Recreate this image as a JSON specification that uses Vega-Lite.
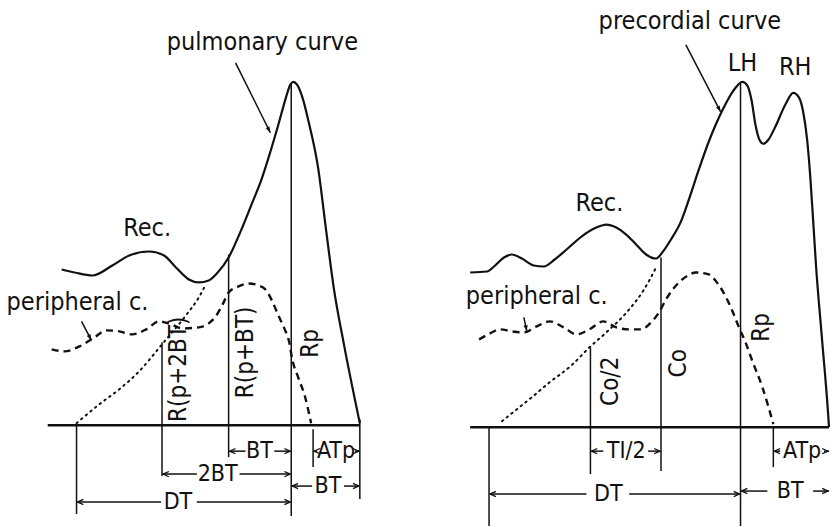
{
  "$schema": "https://vega.github.io/schema/vega-lite/v6.json",
  "width": 834,
  "height": 527,
  "autosize": {"type": "fit", "contains": "padding"},
  "padding": 0,
  "background": "white",
  "config": {"view": {"stroke": null}},
  "datasets": {
    "curves": [
      {"series": "pulmonary", "style": "solid", "i": 1, "x": 62, "y": 270},
      {"series": "pulmonary", "style": "solid", "i": 2, "x": 75, "y": 273},
      {"series": "pulmonary", "style": "solid", "i": 3, "x": 93, "y": 276},
      {"series": "pulmonary", "style": "solid", "i": 4, "x": 113, "y": 266},
      {"series": "pulmonary", "style": "solid", "i": 5, "x": 130, "y": 256},
      {"series": "pulmonary", "style": "solid", "i": 6, "x": 150, "y": 252},
      {"series": "pulmonary", "style": "solid", "i": 7, "x": 165, "y": 256},
      {"series": "pulmonary", "style": "solid", "i": 8, "x": 177, "y": 268},
      {"series": "pulmonary", "style": "solid", "i": 9, "x": 190, "y": 280},
      {"series": "pulmonary", "style": "solid", "i": 10, "x": 200, "y": 283},
      {"series": "pulmonary", "style": "solid", "i": 11, "x": 210, "y": 281},
      {"series": "pulmonary", "style": "solid", "i": 12, "x": 219, "y": 273},
      {"series": "pulmonary", "style": "solid", "i": 13, "x": 230, "y": 258},
      {"series": "pulmonary", "style": "solid", "i": 14, "x": 242, "y": 232},
      {"series": "pulmonary", "style": "solid", "i": 15, "x": 253, "y": 205},
      {"series": "pulmonary", "style": "solid", "i": 16, "x": 263, "y": 180},
      {"series": "pulmonary", "style": "solid", "i": 17, "x": 272, "y": 152},
      {"series": "pulmonary", "style": "solid", "i": 18, "x": 280, "y": 125},
      {"series": "pulmonary", "style": "solid", "i": 19, "x": 287, "y": 100},
      {"series": "pulmonary", "style": "solid", "i": 20, "x": 292, "y": 85},
      {"series": "pulmonary", "style": "solid", "i": 21, "x": 295, "y": 82},
      {"series": "pulmonary", "style": "solid", "i": 22, "x": 299, "y": 85},
      {"series": "pulmonary", "style": "solid", "i": 23, "x": 305, "y": 100},
      {"series": "pulmonary", "style": "solid", "i": 24, "x": 310, "y": 120},
      {"series": "pulmonary", "style": "solid", "i": 25, "x": 320, "y": 168},
      {"series": "pulmonary", "style": "solid", "i": 26, "x": 328, "y": 230},
      {"series": "pulmonary", "style": "solid", "i": 27, "x": 336, "y": 290},
      {"series": "pulmonary", "style": "solid", "i": 28, "x": 346, "y": 345},
      {"series": "pulmonary", "style": "solid", "i": 29, "x": 362, "y": 424},
      {"series": "precordial", "style": "solid", "i": 1, "x": 473, "y": 273},
      {"series": "precordial", "style": "solid", "i": 2, "x": 490, "y": 272},
      {"series": "precordial", "style": "solid", "i": 3, "x": 497, "y": 267},
      {"series": "precordial", "style": "solid", "i": 4, "x": 507, "y": 258},
      {"series": "precordial", "style": "solid", "i": 5, "x": 515, "y": 255},
      {"series": "precordial", "style": "solid", "i": 6, "x": 525, "y": 259},
      {"series": "precordial", "style": "solid", "i": 7, "x": 537, "y": 266},
      {"series": "precordial", "style": "solid", "i": 8, "x": 547, "y": 267},
      {"series": "precordial", "style": "solid", "i": 9, "x": 558, "y": 260},
      {"series": "precordial", "style": "solid", "i": 10, "x": 570, "y": 250},
      {"series": "precordial", "style": "solid", "i": 11, "x": 585, "y": 237},
      {"series": "precordial", "style": "solid", "i": 12, "x": 600, "y": 228},
      {"series": "precordial", "style": "solid", "i": 13, "x": 610, "y": 225},
      {"series": "precordial", "style": "solid", "i": 14, "x": 620, "y": 228},
      {"series": "precordial", "style": "solid", "i": 15, "x": 630, "y": 235},
      {"series": "precordial", "style": "solid", "i": 16, "x": 640, "y": 245},
      {"series": "precordial", "style": "solid", "i": 17, "x": 650, "y": 255},
      {"series": "precordial", "style": "solid", "i": 18, "x": 660, "y": 259},
      {"series": "precordial", "style": "solid", "i": 19, "x": 667, "y": 252},
      {"series": "precordial", "style": "solid", "i": 20, "x": 675, "y": 240},
      {"series": "precordial", "style": "solid", "i": 21, "x": 685, "y": 222},
      {"series": "precordial", "style": "solid", "i": 22, "x": 693, "y": 200},
      {"series": "precordial", "style": "solid", "i": 23, "x": 703, "y": 170},
      {"series": "precordial", "style": "solid", "i": 24, "x": 713, "y": 142},
      {"series": "precordial", "style": "solid", "i": 25, "x": 720, "y": 125},
      {"series": "precordial", "style": "solid", "i": 26, "x": 727, "y": 110},
      {"series": "precordial", "style": "solid", "i": 27, "x": 737, "y": 92},
      {"series": "precordial", "style": "solid", "i": 28, "x": 747, "y": 82},
      {"series": "precordial", "style": "solid", "i": 29, "x": 752, "y": 86},
      {"series": "precordial", "style": "solid", "i": 30, "x": 756, "y": 100},
      {"series": "precordial", "style": "solid", "i": 31, "x": 760, "y": 125},
      {"series": "precordial", "style": "solid", "i": 32, "x": 764, "y": 140},
      {"series": "precordial", "style": "solid", "i": 33, "x": 768, "y": 144},
      {"series": "precordial", "style": "solid", "i": 34, "x": 773, "y": 140},
      {"series": "precordial", "style": "solid", "i": 35, "x": 780, "y": 127},
      {"series": "precordial", "style": "solid", "i": 36, "x": 790, "y": 105},
      {"series": "precordial", "style": "solid", "i": 37, "x": 798, "y": 93},
      {"series": "precordial", "style": "solid", "i": 38, "x": 804, "y": 98},
      {"series": "precordial", "style": "solid", "i": 39, "x": 808, "y": 112},
      {"series": "precordial", "style": "solid", "i": 40, "x": 812, "y": 140},
      {"series": "precordial", "style": "solid", "i": 41, "x": 815, "y": 175},
      {"series": "precordial", "style": "solid", "i": 42, "x": 818, "y": 220},
      {"series": "precordial", "style": "solid", "i": 43, "x": 821, "y": 267},
      {"series": "precordial", "style": "solid", "i": 44, "x": 827, "y": 340},
      {"series": "precordial", "style": "solid", "i": 45, "x": 833, "y": 413},
      {"series": "precordial", "style": "solid", "i": 46, "x": 834, "y": 428},
      {"series": "extrap left", "style": "dotted", "i": 1, "x": 77, "y": 424},
      {"series": "extrap left", "style": "dotted", "i": 2, "x": 100, "y": 405},
      {"series": "extrap left", "style": "dotted", "i": 3, "x": 120, "y": 390},
      {"series": "extrap left", "style": "dotted", "i": 4, "x": 140, "y": 372},
      {"series": "extrap left", "style": "dotted", "i": 5, "x": 163, "y": 345},
      {"series": "extrap left", "style": "dotted", "i": 6, "x": 187, "y": 316},
      {"series": "extrap left", "style": "dotted", "i": 7, "x": 200, "y": 298},
      {"series": "extrap left", "style": "dotted", "i": 8, "x": 207, "y": 285},
      {"series": "extrap right", "style": "dotted", "i": 1, "x": 505, "y": 422},
      {"series": "extrap right", "style": "dotted", "i": 2, "x": 520, "y": 410},
      {"series": "extrap right", "style": "dotted", "i": 3, "x": 535, "y": 398},
      {"series": "extrap right", "style": "dotted", "i": 4, "x": 553, "y": 383},
      {"series": "extrap right", "style": "dotted", "i": 5, "x": 575, "y": 366},
      {"series": "extrap right", "style": "dotted", "i": 6, "x": 593, "y": 348},
      {"series": "extrap right", "style": "dotted", "i": 7, "x": 610, "y": 333},
      {"series": "extrap right", "style": "dotted", "i": 8, "x": 633, "y": 310},
      {"series": "extrap right", "style": "dotted", "i": 9, "x": 648, "y": 290},
      {"series": "extrap right", "style": "dotted", "i": 10, "x": 660, "y": 268},
      {"series": "peripheral left", "style": "dashed", "i": 1, "x": 52, "y": 350},
      {"series": "peripheral left", "style": "dashed", "i": 2, "x": 65, "y": 352},
      {"series": "peripheral left", "style": "dashed", "i": 3, "x": 80, "y": 347},
      {"series": "peripheral left", "style": "dashed", "i": 4, "x": 95, "y": 338},
      {"series": "peripheral left", "style": "dashed", "i": 5, "x": 107, "y": 331},
      {"series": "peripheral left", "style": "dashed", "i": 6, "x": 120, "y": 332},
      {"series": "peripheral left", "style": "dashed", "i": 7, "x": 133, "y": 335},
      {"series": "peripheral left", "style": "dashed", "i": 8, "x": 147, "y": 330},
      {"series": "peripheral left", "style": "dashed", "i": 9, "x": 160, "y": 322},
      {"series": "peripheral left", "style": "dashed", "i": 10, "x": 172, "y": 325},
      {"series": "peripheral left", "style": "dashed", "i": 11, "x": 183, "y": 329},
      {"series": "peripheral left", "style": "dashed", "i": 12, "x": 200, "y": 328},
      {"series": "peripheral left", "style": "dashed", "i": 13, "x": 210, "y": 324},
      {"series": "peripheral left", "style": "dashed", "i": 14, "x": 217, "y": 317},
      {"series": "peripheral left", "style": "dashed", "i": 15, "x": 224, "y": 305},
      {"series": "peripheral left", "style": "dashed", "i": 16, "x": 230, "y": 293},
      {"series": "peripheral left", "style": "dashed", "i": 17, "x": 240, "y": 287},
      {"series": "peripheral left", "style": "dashed", "i": 18, "x": 250, "y": 284},
      {"series": "peripheral left", "style": "dashed", "i": 19, "x": 260, "y": 286},
      {"series": "peripheral left", "style": "dashed", "i": 20, "x": 267, "y": 290},
      {"series": "peripheral left", "style": "dashed", "i": 21, "x": 274, "y": 302},
      {"series": "peripheral left", "style": "dashed", "i": 22, "x": 280, "y": 316},
      {"series": "peripheral left", "style": "dashed", "i": 23, "x": 286, "y": 329},
      {"series": "peripheral left", "style": "dashed", "i": 24, "x": 291, "y": 343},
      {"series": "peripheral left", "style": "dashed", "i": 25, "x": 294, "y": 360},
      {"series": "peripheral left", "style": "dashed", "i": 26, "x": 300, "y": 378},
      {"series": "peripheral left", "style": "dashed", "i": 27, "x": 307, "y": 398},
      {"series": "peripheral left", "style": "dashed", "i": 28, "x": 313, "y": 424},
      {"series": "peripheral right", "style": "dashed", "i": 1, "x": 482, "y": 340},
      {"series": "peripheral right", "style": "dashed", "i": 2, "x": 493, "y": 334},
      {"series": "peripheral right", "style": "dashed", "i": 3, "x": 503, "y": 330},
      {"series": "peripheral right", "style": "dashed", "i": 4, "x": 515, "y": 332},
      {"series": "peripheral right", "style": "dashed", "i": 5, "x": 527, "y": 333},
      {"series": "peripheral right", "style": "dashed", "i": 6, "x": 540, "y": 327},
      {"series": "peripheral right", "style": "dashed", "i": 7, "x": 553, "y": 322},
      {"series": "peripheral right", "style": "dashed", "i": 8, "x": 567, "y": 328},
      {"series": "peripheral right", "style": "dashed", "i": 9, "x": 580, "y": 335},
      {"series": "peripheral right", "style": "dashed", "i": 10, "x": 593, "y": 330},
      {"series": "peripheral right", "style": "dashed", "i": 11, "x": 607, "y": 322},
      {"series": "peripheral right", "style": "dashed", "i": 12, "x": 620, "y": 328},
      {"series": "peripheral right", "style": "dashed", "i": 13, "x": 633, "y": 330},
      {"series": "peripheral right", "style": "dashed", "i": 14, "x": 645, "y": 330},
      {"series": "peripheral right", "style": "dashed", "i": 15, "x": 655, "y": 323},
      {"series": "peripheral right", "style": "dashed", "i": 16, "x": 663, "y": 313},
      {"series": "peripheral right", "style": "dashed", "i": 17, "x": 670, "y": 300},
      {"series": "peripheral right", "style": "dashed", "i": 18, "x": 683, "y": 283},
      {"series": "peripheral right", "style": "dashed", "i": 19, "x": 692, "y": 276},
      {"series": "peripheral right", "style": "dashed", "i": 20, "x": 700, "y": 273},
      {"series": "peripheral right", "style": "dashed", "i": 21, "x": 713, "y": 275},
      {"series": "peripheral right", "style": "dashed", "i": 22, "x": 722, "y": 284},
      {"series": "peripheral right", "style": "dashed", "i": 23, "x": 730, "y": 297},
      {"series": "peripheral right", "style": "dashed", "i": 24, "x": 737, "y": 312},
      {"series": "peripheral right", "style": "dashed", "i": 25, "x": 743, "y": 327},
      {"series": "peripheral right", "style": "dashed", "i": 26, "x": 750, "y": 343},
      {"series": "peripheral right", "style": "dashed", "i": 27, "x": 757, "y": 362},
      {"series": "peripheral right", "style": "dashed", "i": 28, "x": 767, "y": 388},
      {"series": "peripheral right", "style": "dashed", "i": 29, "x": 778, "y": 425}
    ],
    "segments": [
      {"kind": "base", "x": 48, "y": 426, "x2": 362, "y2": 426},
      {"kind": "base", "x": 473, "y": 428, "x2": 834, "y2": 428},
      {"kind": "line", "x": 77, "y": 426, "x2": 77, "y2": 515},
      {"kind": "line", "x": 163, "y": 343, "x2": 163, "y2": 477},
      {"kind": "line", "x": 230, "y": 255, "x2": 230, "y2": 458},
      {"kind": "line", "x": 293, "y": 84, "x2": 293, "y2": 517},
      {"kind": "line", "x": 362, "y": 420, "x2": 362, "y2": 500},
      {"kind": "line", "x": 315, "y": 430, "x2": 315, "y2": 468},
      {"kind": "line", "x": 492, "y": 428, "x2": 492, "y2": 527},
      {"kind": "line", "x": 594, "y": 348, "x2": 594, "y2": 475},
      {"kind": "line", "x": 665, "y": 258, "x2": 665, "y2": 472},
      {"kind": "line", "x": 745, "y": 84, "x2": 745, "y2": 527},
      {"kind": "line", "x": 778, "y": 428, "x2": 778, "y2": 468},
      {"kind": "line", "x": 231, "y": 452, "x2": 247, "y2": 452},
      {"kind": "line", "x": 276, "y": 452, "x2": 292, "y2": 452},
      {"kind": "line", "x": 164, "y": 475, "x2": 198, "y2": 475},
      {"kind": "line", "x": 241, "y": 475, "x2": 292, "y2": 475},
      {"kind": "line", "x": 78, "y": 503, "x2": 162, "y2": 503},
      {"kind": "line", "x": 198, "y": 503, "x2": 292, "y2": 503},
      {"kind": "line", "x": 294, "y": 487, "x2": 314, "y2": 487},
      {"kind": "line", "x": 346, "y": 487, "x2": 361, "y2": 487},
      {"kind": "line", "x": 316, "y": 452, "x2": 319, "y2": 452},
      {"kind": "line", "x": 357, "y": 452, "x2": 361, "y2": 452},
      {"kind": "line", "x": 595, "y": 452, "x2": 607, "y2": 452},
      {"kind": "line", "x": 652, "y": 452, "x2": 664, "y2": 452},
      {"kind": "line", "x": 779, "y": 452, "x2": 785, "y2": 452},
      {"kind": "line", "x": 829, "y": 452, "x2": 834, "y2": 452},
      {"kind": "line", "x": 493, "y": 495, "x2": 590, "y2": 495},
      {"kind": "line", "x": 633, "y": 495, "x2": 744, "y2": 495},
      {"kind": "line", "x": 746, "y": 492, "x2": 772, "y2": 492},
      {"kind": "line", "x": 818, "y": 492, "x2": 834, "y2": 492},
      {"kind": "pointer", "x": 237, "y": 63, "x2": 272, "y2": 133},
      {"kind": "pointer", "x": 690, "y": 45, "x2": 725, "y2": 112},
      {"kind": "pointer", "x": 82, "y": 322, "x2": 92, "y2": 341},
      {"kind": "pointer", "x": 527, "y": 318, "x2": 530, "y2": 332}
    ],
    "heads": [
      {"kind": "dim", "x": 231, "y": 452, "dir": 180},
      {"kind": "dim", "x": 292, "y": 452, "dir": 0},
      {"kind": "dim", "x": 164, "y": 475, "dir": 180},
      {"kind": "dim", "x": 292, "y": 475, "dir": 0},
      {"kind": "dim", "x": 78, "y": 503, "dir": 180},
      {"kind": "dim", "x": 292, "y": 503, "dir": 0},
      {"kind": "dim", "x": 294, "y": 487, "dir": 180},
      {"kind": "dim", "x": 361, "y": 487, "dir": 0},
      {"kind": "dim", "x": 316, "y": 452, "dir": 180},
      {"kind": "dim", "x": 361, "y": 452, "dir": 0},
      {"kind": "dim", "x": 595, "y": 452, "dir": 180},
      {"kind": "dim", "x": 664, "y": 452, "dir": 0},
      {"kind": "dim", "x": 779, "y": 452, "dir": 180},
      {"kind": "dim", "x": 833, "y": 452, "dir": 0},
      {"kind": "dim", "x": 493, "y": 495, "dir": 180},
      {"kind": "dim", "x": 744, "y": 495, "dir": 0},
      {"kind": "dim", "x": 746, "y": 492, "dir": 180},
      {"kind": "dim", "x": 833, "y": 492, "dir": 0},
      {"kind": "pointer", "x": 272, "y": 133, "dir": 63},
      {"kind": "pointer", "x": 725, "y": 112, "dir": 62},
      {"kind": "pointer", "x": 92, "y": 341, "dir": 62},
      {"kind": "pointer", "x": 530, "y": 332, "dir": 78}
    ],
    "labels": [
      {"group": "title", "orient": "h", "x": 264, "y": 42, "text": "pulmonary curve"},
      {"group": "title", "orient": "h", "x": 148, "y": 228, "text": "Rec."},
      {"group": "title", "orient": "h", "x": 78, "y": 303, "text": "peripheral c."},
      {"group": "title", "orient": "v", "x": 180, "y": 370, "text": "R(p+2BT)"},
      {"group": "title", "orient": "v", "x": 247, "y": 353, "text": "R(p+BT)"},
      {"group": "title", "orient": "v", "x": 313, "y": 344, "text": "Rp"},
      {"group": "dim", "orient": "h", "x": 261, "y": 452, "text": "BT"},
      {"group": "dim", "orient": "h", "x": 219, "y": 475, "text": "2BT"},
      {"group": "dim", "orient": "h", "x": 179, "y": 503, "text": "DT"},
      {"group": "dim", "orient": "h", "x": 330, "y": 487, "text": "BT"},
      {"group": "dim", "orient": "h", "x": 338, "y": 452, "text": "ATp"},
      {"group": "title", "orient": "h", "x": 694, "y": 21, "text": "precordial curve"},
      {"group": "title", "orient": "h", "x": 747, "y": 63, "text": "LH"},
      {"group": "title", "orient": "h", "x": 800, "y": 67, "text": "RH"},
      {"group": "title", "orient": "h", "x": 603, "y": 203, "text": "Rec."},
      {"group": "title", "orient": "h", "x": 540, "y": 297, "text": "peripheral c."},
      {"group": "title", "orient": "v", "x": 615, "y": 382, "text": "Co/2"},
      {"group": "title", "orient": "v", "x": 683, "y": 364, "text": "Co"},
      {"group": "title", "orient": "v", "x": 767, "y": 328, "text": "Rp"},
      {"group": "dim", "orient": "h", "x": 630, "y": 452, "text": "TI/2"},
      {"group": "dim", "orient": "h", "x": 807, "y": 452, "text": "ATp"},
      {"group": "dim", "orient": "h", "x": 612, "y": 495, "text": "DT"},
      {"group": "dim", "orient": "h", "x": 795, "y": 492, "text": "BT"}
    ]
  },
  "layer": [
    {
      "data": {"name": "curves"},
      "transform": [{"filter": "datum.style === 'solid'"}],
      "mark": {"type": "line", "interpolate": "monotone", "color": "#111", "strokeWidth": 2.2},
      "encoding": {
        "x": {"field": "x", "type": "quantitative", "axis": null, "scale": {"domain": [0, 834], "nice": false, "zero": false}},
        "y": {"field": "y", "type": "quantitative", "axis": null, "scale": {"domain": [0, 527], "reverse": true, "nice": false, "zero": false}},
        "detail": {"field": "series"},
        "order": {"field": "i", "type": "quantitative"}
      }
    },
    {
      "data": {"name": "curves"},
      "transform": [{"filter": "datum.style === 'dashed'"}],
      "mark": {"type": "line", "interpolate": "monotone", "color": "#111", "strokeWidth": 2.4, "strokeDash": [7, 5]},
      "encoding": {
        "x": {"field": "x", "type": "quantitative", "axis": null},
        "y": {"field": "y", "type": "quantitative", "axis": null},
        "detail": {"field": "series"},
        "order": {"field": "i", "type": "quantitative"}
      }
    },
    {
      "data": {"name": "curves"},
      "transform": [{"filter": "datum.style === 'dotted'"}],
      "mark": {"type": "line", "interpolate": "monotone", "color": "#111", "strokeWidth": 2, "strokeDash": [1.5, 4.5], "strokeCap": "round"},
      "encoding": {
        "x": {"field": "x", "type": "quantitative", "axis": null},
        "y": {"field": "y", "type": "quantitative", "axis": null},
        "detail": {"field": "series"},
        "order": {"field": "i", "type": "quantitative"}
      }
    },
    {
      "data": {"name": "segments"},
      "transform": [{"filter": "datum.kind === 'base'"}],
      "mark": {"type": "rule", "color": "#111", "strokeWidth": 2.4},
      "encoding": {
        "x": {"field": "x", "type": "quantitative", "axis": null},
        "y": {"field": "y", "type": "quantitative", "axis": null},
        "x2": {"field": "x2"},
        "y2": {"field": "y2"}
      }
    },
    {
      "data": {"name": "segments"},
      "transform": [{"filter": "datum.kind !== 'base'"}],
      "mark": {"type": "rule", "color": "#111", "strokeWidth": 1.5},
      "encoding": {
        "x": {"field": "x", "type": "quantitative", "axis": null},
        "y": {"field": "y", "type": "quantitative", "axis": null},
        "x2": {"field": "x2"},
        "y2": {"field": "y2"}
      }
    },
    {
      "data": {"name": "heads"},
      "transform": [{"filter": "datum.kind === 'dim'"}],
      "mark": {"type": "point", "shape": "M -2 -0.9 L 0 0 L -2 0.9", "filled": false, "size": 34, "color": "#111", "strokeWidth": 1.3, "opacity": 1},
      "encoding": {
        "x": {"field": "x", "type": "quantitative", "axis": null},
        "y": {"field": "y", "type": "quantitative", "axis": null},
        "angle": {"field": "dir", "type": "quantitative", "scale": null}
      }
    },
    {
      "data": {"name": "heads"},
      "transform": [{"filter": "datum.kind === 'pointer'"}],
      "mark": {"type": "point", "shape": "M -2.6 -0.9 L 0 0 L -2.6 0.9 Z", "filled": true, "size": 22, "color": "#111", "opacity": 1},
      "encoding": {
        "x": {"field": "x", "type": "quantitative", "axis": null},
        "y": {"field": "y", "type": "quantitative", "axis": null},
        "angle": {"field": "dir", "type": "quantitative", "scale": null}
      }
    },
    {
      "data": {"name": "labels"},
      "transform": [{"filter": "datum.group === 'title' && datum.orient === 'h'"}],
      "mark": {"type": "text", "font": "DejaVu Sans Condensed", "fontSize": 25, "color": "#111", "align": "center", "baseline": "middle"},
      "encoding": {
        "x": {"field": "x", "type": "quantitative", "axis": null},
        "y": {"field": "y", "type": "quantitative", "axis": null},
        "text": {"field": "text"}
      }
    },
    {
      "data": {"name": "labels"},
      "transform": [{"filter": "datum.group === 'title' && datum.orient === 'v'"}],
      "mark": {"type": "text", "font": "DejaVu Sans Condensed", "fontSize": 24, "color": "#111", "align": "center", "baseline": "middle", "angle": 270},
      "encoding": {
        "x": {"field": "x", "type": "quantitative", "axis": null},
        "y": {"field": "y", "type": "quantitative", "axis": null},
        "text": {"field": "text"}
      }
    },
    {
      "data": {"name": "labels"},
      "transform": [{"filter": "datum.group === 'dim'"}],
      "mark": {"type": "text", "font": "DejaVu Sans Condensed", "fontSize": 23, "color": "#111", "align": "center", "baseline": "middle"},
      "encoding": {
        "x": {"field": "x", "type": "quantitative", "axis": null},
        "y": {"field": "y", "type": "quantitative", "axis": null},
        "text": {"field": "text"}
      }
    }
  ]
}
